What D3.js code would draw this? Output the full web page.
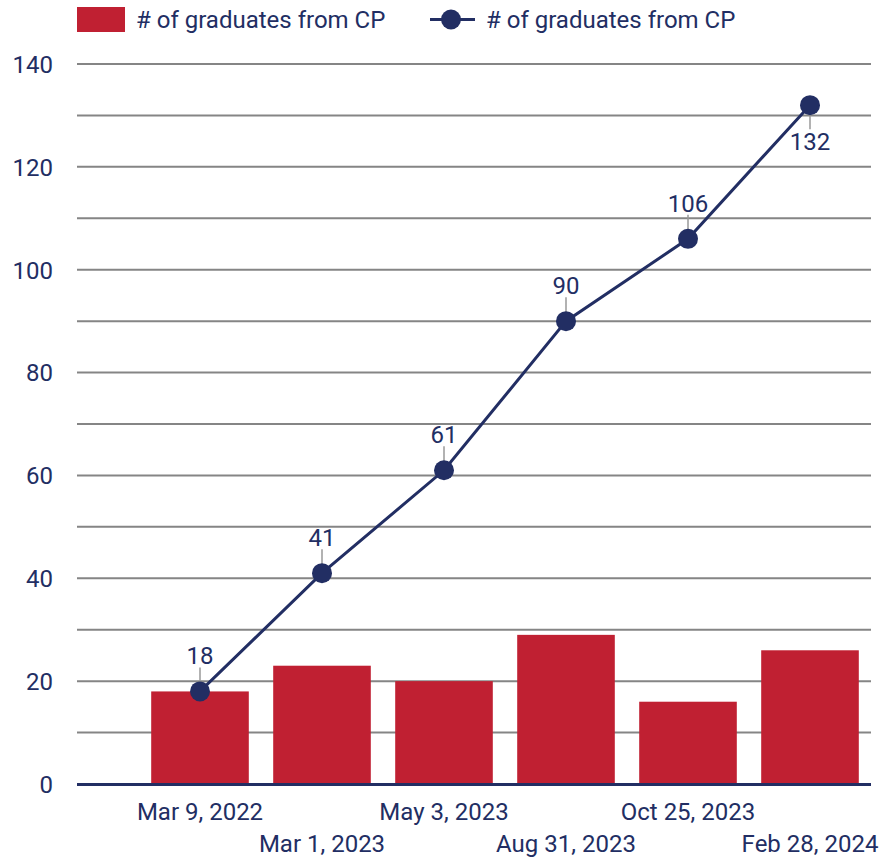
<!DOCTYPE html>
<html>
<head>
<meta charset="utf-8">
<script src="https://cdn.jsdelivr.net/npm/d3@7"></script>
<style>
body { margin: 0; background: #fff; }
text { font-family: Roboto, "Noto Sans", sans-serif; }
</style>
</head>
<body>
<svg id="chart" width="879" height="858"></svg>
<script>
const categories = ["Mar 9, 2022", "Mar 1, 2023", "May 3, 2023", "Aug 31, 2023", "Oct 25, 2023", "Feb 28, 2024"];
const barValues = [18, 23, 20, 29, 16, 26];
const lineValues = [18, 41, 61, 90, 106, 132];
const yTicks = [0, 20, 40, 60, 80, 100, 120, 140];
const gridTicks = [0, 10, 20, 30, 40, 50, 60, 70, 80, 90, 100, 110, 120, 130, 140];
const seriesNames = ["# of graduates from CP", "# of graduates from CP"];

const RED = "#c02032";
const NAVY = "#222e63";
const GRID = "#858585";
const FS = 24;

const svg = d3.select("#chart");
const plotLeft = 77, plotRight = 871;

const x = d3.scaleBand().domain(categories).range([139, 871]).paddingInner(0.2).paddingOuter(0.1);
const y = d3.scaleLinear().domain([0, 140]).range([784, 64]);

// gridlines
svg.append("g").selectAll("line").data(gridTicks.filter(d => d > 0)).join("line")
  .attr("x1", plotLeft).attr("x2", plotRight)
  .attr("y1", d => y(d)).attr("y2", d => y(d))
  .attr("stroke", GRID).attr("stroke-width", 2);

// y axis labels
const yAxis = d3.axisLeft(y).tickValues(yTicks).tickSize(0).tickPadding(0);
const gy = svg.append("g").attr("transform", "translate(53,0)").call(yAxis);
gy.select(".domain").remove();
gy.selectAll("text").attr("font-size", FS).attr("fill", NAVY).attr("font-family", "Roboto, sans-serif").attr("dy", "0.35em");

// bars
svg.append("g").selectAll("rect").data(barValues).join("rect")
  .attr("x", (d, i) => x(categories[i]))
  .attr("width", x.bandwidth())
  .attr("y", d => y(d))
  .attr("height", d => y(0) - y(d))
  .attr("fill", RED);

// x axis line
svg.append("line").attr("x1", plotLeft).attr("x2", plotRight)
  .attr("y1", y(0) + 0.5).attr("y2", y(0) + 0.5)
  .attr("stroke", NAVY).attr("stroke-width", 3);

// x labels (staggered)
const cx = c => x(c) + x.bandwidth() / 2;
svg.append("g").selectAll("text").data(categories).join("text")
  .attr("x", d => cx(d))
  .attr("y", (d, i) => i % 2 === 0 ? 820 : 852)
  .attr("text-anchor", "middle")
  .attr("font-size", FS).attr("fill", NAVY)
  .text(d => d);

// line
const line = d3.line().x((d, i) => cx(categories[i])).y(d => y(d));
svg.append("path").datum(lineValues).attr("d", line)
  .attr("fill", "none").attr("stroke", NAVY).attr("stroke-width", 3);

// leader lines + labels
const labels = svg.append("g");
lineValues.forEach((v, i) => {
  const px = cx(categories[i]), py = y(v);
  const below = i === lineValues.length - 1;
  if (below) {
    labels.append("line").attr("x1", px).attr("x2", px).attr("y1", py).attr("y2", py + 24)
      .attr("stroke", "#999").attr("stroke-width", 1.5);
    labels.append("text").attr("x", px).attr("y", py + 45).attr("text-anchor", "middle")
      .attr("font-size", FS).attr("fill", NAVY).text(v);
  } else {
    labels.append("line").attr("x1", px).attr("x2", px).attr("y1", py).attr("y2", py - 24)
      .attr("stroke", "#999").attr("stroke-width", 1.5);
    labels.append("text").attr("x", px).attr("y", py - 27).attr("text-anchor", "middle")
      .attr("font-size", FS).attr("fill", NAVY).text(v);
  }
});

// points
svg.append("g").selectAll("circle").data(lineValues).join("circle")
  .attr("cx", (d, i) => cx(categories[i])).attr("cy", d => y(d))
  .attr("r", 10).attr("fill", NAVY);

// legend
const lg = svg.append("g");
lg.append("rect").attr("x", 77).attr("y", 7).attr("width", 48).attr("height", 25).attr("fill", RED);
lg.append("text").attr("x", 136).attr("y", 28).attr("font-size", FS).attr("fill", NAVY).text(seriesNames[0]);
lg.append("line").attr("x1", 430).attr("x2", 475).attr("y1", 19.5).attr("y2", 19.5).attr("stroke", NAVY).attr("stroke-width", 3);
lg.append("circle").attr("cx", 451).attr("cy", 19.5).attr("r", 10).attr("fill", NAVY);
lg.append("text").attr("x", 486).attr("y", 28).attr("font-size", FS).attr("fill", NAVY).text(seriesNames[1]);
</script>
</body>
</html>
